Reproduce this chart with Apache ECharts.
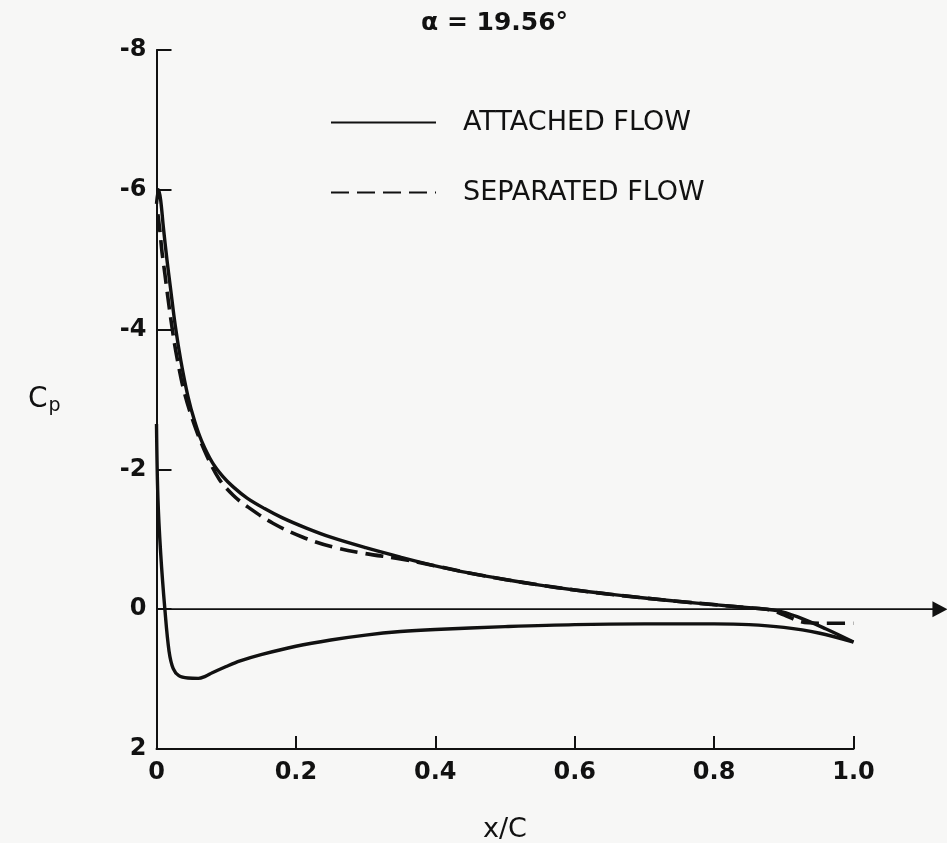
<!DOCTYPE html>
<html><head><meta charset="utf-8">
<script src="https://cdn.jsdelivr.net/npm/echarts@6/dist/echarts.min.js"></script>
<style>html,body{margin:0;padding:0;background:#f7f7f6}#c{width:947px;height:843px}</style>
</head><body><div id="c"></div>
<script>
// Attached flow, upper surface (x/c, Cp)
const attachedUpperX  = [0.000, 0.003, 0.006, 0.010, 0.015, 0.020, 0.027, 0.035, 0.045, 0.055, 0.065, 0.080, 0.095, 0.110, 0.130, 0.155, 0.180, 0.215, 0.250, 0.300, 0.350, 0.400, 0.450, 0.500, 0.550, 0.600, 0.650, 0.700, 0.750, 0.800, 0.850, 0.890, 0.920, 0.960, 1.000];
const attachedUpperCp = [-5.80, -6.00, -5.85, -5.45, -5.00, -4.60, -4.05, -3.55, -3.05, -2.68, -2.40, -2.10, -1.90, -1.75, -1.59, -1.44, -1.31, -1.16, -1.03, -0.88, -0.745, -0.62, -0.515, -0.425, -0.345, -0.275, -0.215, -0.16, -0.11, -0.065, -0.02, 0.02, 0.11, 0.28, 0.47];
// Attached flow, lower surface
const attachedLowerX  = [0.000, 0.002, 0.006, 0.012, 0.018, 0.024, 0.032, 0.045, 0.060, 0.070, 0.080, 0.100, 0.120, 0.150, 0.200, 0.250, 0.300, 0.350, 0.400, 0.500, 0.600, 0.700, 0.800, 0.850, 0.900, 0.950, 1.000];
const attachedLowerCp = [-2.65, -1.60, -0.80, 0.00, 0.60, 0.85, 0.95, 0.985, 0.99, 0.96, 0.91, 0.82, 0.74, 0.65, 0.53, 0.44, 0.37, 0.32, 0.29, 0.25, 0.22, 0.21, 0.21, 0.22, 0.26, 0.34, 0.47];
// Separated flow, upper surface
const separatedX  = [0.002, 0.005, 0.008, 0.012, 0.015, 0.022, 0.029, 0.040, 0.055, 0.072, 0.090, 0.110, 0.130, 0.167, 0.210, 0.253, 0.300, 0.350, 0.400, 0.450, 0.500, 0.550, 0.600, 0.650, 0.700, 0.750, 0.800, 0.850, 0.880, 0.900, 0.925, 0.950, 1.000];
const separatedCp = [-5.65, -5.40, -5.10, -4.80, -4.56, -4.05, -3.62, -3.10, -2.62, -2.20, -1.86, -1.63, -1.47, -1.23, -1.03, -0.89, -0.795, -0.72, -0.62, -0.515, -0.425, -0.345, -0.275, -0.215, -0.16, -0.11, -0.065, -0.02, 0.01, 0.08, 0.18, 0.20, 0.20];
// Cp = 0 reference line with arrow (x/c extent)
const zeroLineX = [0, 1.124];
const zeroLineCp = [0, 0];

const xTicks = ['0', '0.2', '0.4', '0.6', '0.8', '1.0'];
const yTicks = ['-8', '-6', '-4', '-2', '0', '2'];

const zip = (xs, ys) => xs.map((x, i) => [x, ys[i]]);
const FONT = 'DejaVu Sans';
const INK = '#111';
const PLOT_LEFT = 156.5, PLOT_TOP = 50, PLOT_W = 697, PLOT_H = 699, PAGE_W = 947;

const chart = echarts.init(document.getElementById('c'), null, {renderer: 'canvas'});
chart.setOption({
  backgroundColor: '#f7f7f6',
  animation: false,
  title: {
    text: 'α = 19.56°', left: 416, top: 6,
    textStyle: {fontFamily: FONT, fontSize: 25, fontWeight: 'bold', color: INK}
  },
  legend: {
    orient: 'vertical', left: 330, top: 109, itemGap: 43, padding: 0,
    itemWidth: 105, itemHeight: 14,
    data: ['ATTACHED FLOW', 'SEPARATED FLOW'],
    itemStyle: {opacity: 0},
    textStyle: {fontFamily: FONT, fontSize: 27, color: INK, padding: [0, 0, 0, 22]}
  },
  grid: [
    {left: PLOT_LEFT, top: PLOT_TOP, width: PLOT_W, height: PLOT_H, containLabel: false, outerBoundsMode: 'none'},
    {left: PLOT_LEFT, top: PLOT_TOP, width: PAGE_W - PLOT_LEFT, height: PLOT_H, containLabel: false, outerBoundsMode: 'none'}
  ],
  xAxis: [{
    type: 'value', min: 0, max: 1, interval: 0.2, gridIndex: 0,
    name: 'x/C', nameLocation: 'middle', nameGap: 67,
    nameTextStyle: {fontFamily: FONT, fontSize: 27, color: INK},
    axisLine: {onZero: false, lineStyle: {color: INK, width: 2}},
    axisTick: {inside: true, length: 13, lineStyle: {color: INK, width: 2}},
    axisLabel: {
      margin: 12, fontFamily: FONT, fontSize: 24, fontWeight: 'bold', color: INK,
      formatter: (v) => xTicks[Math.round(v / 0.2)]
    },
    splitLine: {show: false}
  }, {
    type: 'value', min: 0, max: (PAGE_W - PLOT_LEFT) / PLOT_W, gridIndex: 1, show: false
  }],
  yAxis: [{
    type: 'value', min: -8, max: 2, interval: 2, inverse: true, gridIndex: 0,
    name: '{c|C}{p|p}', nameLocation: 'middle', nameRotate: 0, nameGap: 96,
    nameTextStyle: {
      rich: {
        c: {fontFamily: FONT, fontSize: 28, color: INK},
        p: {fontFamily: FONT, fontSize: 19, color: INK, verticalAlign: 'bottom', padding: [14, 0, 0, 1]}
      }
    },
    axisLine: {onZero: false, lineStyle: {color: INK, width: 2}},
    axisTick: {inside: true, length: 15, lineStyle: {color: INK, width: 2}},
    axisLabel: {
      margin: 10, fontFamily: FONT, fontSize: 24, fontWeight: 'bold', color: INK,
      formatter: (v) => yTicks[Math.round((v + 8) / 2)]
    },
    splitLine: {show: false}
  }, {
    type: 'value', min: -8, max: 2, inverse: true, gridIndex: 1, show: false
  }],
  series: [
    {
      name: 'zero', type: 'line', clip: false, silent: true,
      xAxisIndex: 1, yAxisIndex: 1,
      data: zip(zeroLineX, zeroLineCp).map((p, i) => i === 0
        ? {value: p, symbol: 'none'}
        : {value: p, symbol: 'triangle', symbolRotate: -90, symbolSize: [16, 15]}),
      showSymbol: true,
      lineStyle: {color: INK, width: 1.8},
      itemStyle: {color: INK},
      z: 1
    },
    {
      name: 'SEPARATED FLOW', type: 'line', data: zip(separatedX, separatedCp),
      symbol: 'none', smooth: 0.35,
      lineStyle: {color: INK, width: 3.6, type: [18, 8], join: 'round', cap: 'butt'}, itemStyle: {color: INK}, z: 2
    },
    {
      name: 'ATTACHED FLOW', type: 'line', data: zip(attachedUpperX, attachedUpperCp),
      symbol: 'none', smooth: 0.35,
      lineStyle: {color: INK, width: 3.4, join: 'round'}, itemStyle: {color: INK}, z: 3
    },
    {
      name: 'ATTACHED FLOW', type: 'line', data: zip(attachedLowerX, attachedLowerCp),
      symbol: 'none', smooth: 0.35,
      lineStyle: {color: INK, width: 3.4, join: 'round'}, itemStyle: {color: INK}, z: 3
    }
  ]
});
</script>
</body></html>
